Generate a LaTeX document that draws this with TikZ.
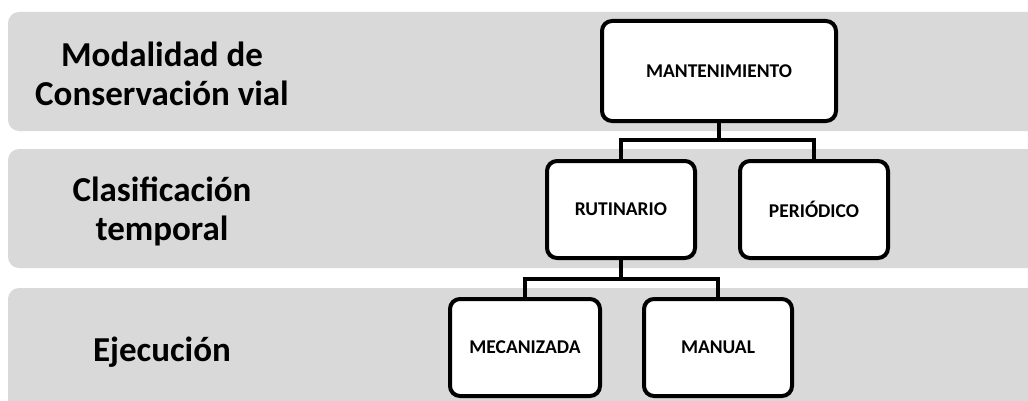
\documentclass[tikz,border=0pt]{standalone}
\usepackage{fontspec}
\setmainfont{Carlito}
\usepackage{xcolor}
\definecolor{BandGray}{HTML}{D9D9D9}
\usepackage{tikz}
\usetikzlibrary{positioning}

\begin{document}
\begin{tikzpicture}[
  x=1pt, y=1pt,
  band/.style={
    fill=BandGray,
    rounded corners=11pt
  },
  level/.style={
    align=center,
    font=\fontsize{35}{39}\selectfont\bfseries
  },
  box/.style={
    draw,
    fill=white,
    line width=4pt,
    rounded corners=10pt,
    minimum width=148pt,
    minimum height=97pt,
    align=center,
    font=\fontsize{19.5}{23}\selectfont\bfseries
  },
  conn/.style={line width=4pt}
]

\useasboundingbox (0,0) rectangle (1028,400);
\clip (0,0) rectangle (1028,400);

% =========================================================
% BANDS
% =========================================================

\fill[band] (8,269) rectangle (1045,388);
\fill[band] (8,132) rectangle (1045,251);
\fill[band] (8,-20) rectangle (1045,112);

\node[level] (modalidad) at (162,326) {Modalidad de\\Conservación vial};
\node[level] (clasif) at (162,189) {Clasificación\\temporal};
\node[level] (ejec) at (162,48) {Ejecución};

% =========================================================
% TREE
% =========================================================

\node[box, minimum width=234pt, minimum height=100pt] (mant) at (719,329)
{MANTENIMIENTO};

\node[box, below=36pt of mant, xshift=-98pt] (rutinario)
{RUTINARIO};

\node[box, right=41pt of rutinario] (periodico)
{PERIÓDICO};

\node[box, below=37pt of rutinario, xshift=-96pt, minimum width=150pt] (mecanizada)
{MECANIZADA};

\node[box, right=40pt of mecanizada] (manual)
{MANUAL};

\draw[conn] (mant.south) -- ++(0,-17) -| (rutinario.north);
\draw[conn] (mant.south) -- ++(0,-17) -| (periodico.north);

\draw[conn] (rutinario.south) -- ++(0,-19) -| (mecanizada.north);
\draw[conn] (rutinario.south) -- ++(0,-19) -| (manual.north);

\end{tikzpicture}
\end{document}
